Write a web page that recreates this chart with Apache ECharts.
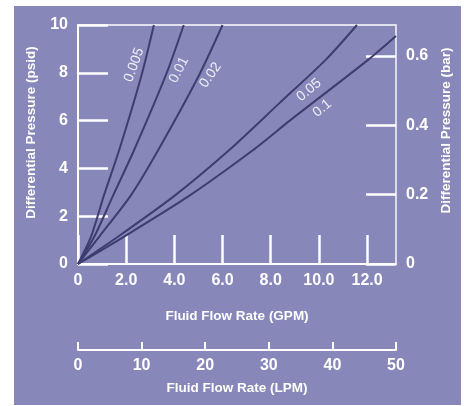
<!DOCTYPE html>
<html>
<head>
<meta charset="utf-8">
<script src="https://cdn.jsdelivr.net/npm/echarts@6/dist/echarts.min.js"></script>
<style>
html,body{margin:0;padding:0;background:#fff;}
#panel{position:absolute;left:14px;top:6px;width:447px;height:399px;background:#8787b9;}
#chart{position:absolute;left:0;top:0;width:464px;height:406px;}
</style>
</head>
<body>
<div id="panel"></div>
<div id="chart"></div>
<script>
// Curve names
const curveNames = ['0.005', '0.01', '0.02', '0.05', '0.1'];
// Flow (GPM) and differential pressure (psid)
const flow005 = [0, 0.55, 1.07, 1.71, 2.64, 3.15];
const psi005  = [0, 1.17, 2.85, 4.77, 7.91, 10];
const flow01  = [0, 0.69, 1.45, 2.33, 3.65, 4.39];
const psi01   = [0, 1.17, 2.85, 4.77, 7.91, 10];
const flow02  = [0, 0.9, 2.18, 3.33, 5.03, 6.0];
const psi02   = [0, 1.17, 2.85, 4.77, 7.91, 10];
const flow05  = [0, 1.7, 4.0, 6.28, 8.35, 10.28, 11.58];
const psi05   = [0, 1.17, 2.85, 4.77, 6.72, 8.54, 10];
const flow1   = [0, 1.95, 4.61, 7.27, 8.83, 12.04, 13.2];
const psi1    = [0, 1.17, 2.85, 4.77, 6.03, 8.54, 9.54];
// Where each curve label sits, in data units (GPM, psid)
const labelFlow = [2.33, 4.19, 5.5, 9.59, 10.14];
const labelPsi  = [8.33, 8.12, 7.9, 7.28, 6.51];
const labelRot  = [70, 63, 55, 40, 40];
// Axis ranges
const gpmMax = 13.2, gpmStep = 2;
const lpmMax = 50, lpmStep = 10;
const psiMax = 10, psiStep = 2;
const barMax = psiMax / 14.5038, barStep = 0.2;

const flows = [flow005, flow01, flow02, flow05, flow1];
const psis = [psi005, psi01, psi02, psi05, psi1];

const FONT = '"Liberation Sans",Arial,sans-serif';
const lab = {color:'#fff', fontFamily:FONT, fontSize:16, fontWeight:'bold'};
const nm = {color:'#fff', fontFamily:FONT, fontSize:13.5, fontWeight:'bold'};

const series = curveNames.map((n, i) => ({
  name: n, type: 'line', xAxisIndex: 0, yAxisIndex: 0,
  data: flows[i].map((f, j) => [f, psis[i][j]]),
  showSymbol: false, smooth: 0.25,
  lineStyle: {color: '#3d3d70', width: 2},
  clip: true,
  markPoint: {
    symbol: 'circle', symbolSize: 0,
    data: [{coord: [labelFlow[i], labelPsi[i]]}],
    label: {show: true, position: 'inside', formatter: n, rotate: labelRot[i],
      color: '#eeeef6', fontFamily: FONT, fontSize: 14}
  }
}));

const chart = echarts.init(document.getElementById('chart'));
chart.setOption({
  animation: false,
  backgroundColor: 'transparent',
  grid: {left: 78, top: 25, right: 68, bottom: 142, show: true, borderColor: '#fff', borderWidth: 1.5, backgroundColor: 'transparent'},
  xAxis: [{
    type: 'value', min: 0, max: gpmMax, interval: gpmStep, position: 'bottom',
    name: 'Fluid Flow Rate (GPM)', nameLocation: 'middle', nameGap: 45, nameTextStyle: nm,
    axisLine: {show: true, onZero: false, lineStyle: {color: '#fff', width: 2}},
    axisTick: {show: true, inside: true, length: 29, lineStyle: {color: '#fff', width: 2.5}},
    axisLabel: Object.assign({margin: 9, showMaxLabel: false, formatter: v => v === 0 ? '0' : v.toFixed(1)}, lab),
    splitLine: {show: false}
  }, {
    type: 'value', min: 0, max: lpmMax, interval: lpmStep, position: 'bottom', offset: 86,
    name: 'Fluid Flow Rate (LPM)', nameLocation: 'middle', nameGap: 31, nameTextStyle: nm,
    axisLine: {show: true, onZero: false, lineStyle: {color: '#fff', width: 2}},
    axisTick: {show: true, inside: true, length: 8, lineStyle: {color: '#fff', width: 2}},
    axisLabel: Object.assign({margin: 8}, lab),
    splitLine: {show: false}
  }],
  yAxis: [{
    type: 'value', min: 0, max: psiMax, interval: psiStep, position: 'left',
    name: 'Differential Pressure (psid)', nameLocation: 'middle', nameGap: 40, nameRotate: 90,
    nameTextStyle: Object.assign({padding: [0, 0, 0, 24]}, nm),
    axisLine: {show: true, onZero: false, lineStyle: {color: '#fff', width: 2}},
    axisTick: {show: true, inside: true, length: 30, lineStyle: {color: '#fff', width: 2.5}},
    axisLabel: Object.assign({margin: 10}, lab),
    splitLine: {show: false}
  }, {
    type: 'value', min: 0, max: barMax, interval: barStep, position: 'right',
    name: 'Differential Pressure (bar)', nameLocation: 'middle', nameGap: 40, nameRotate: 90,
    nameTextStyle: Object.assign({padding: [0, 0, 0, 28]}, nm),
    axisLine: {show: true, onZero: false, lineStyle: {color: '#dcdce8', width: 1.5}},
    axisTick: {show: true, inside: true, length: 30, lineStyle: {color: '#fff', width: 2.5}},
    axisLabel: Object.assign({margin: 10, showMaxLabel: false, formatter: v => v === 0 ? '0' : v.toFixed(1)}, lab),
    splitLine: {show: false}
  }],
  series: series
});
</script>
</body>
</html>
